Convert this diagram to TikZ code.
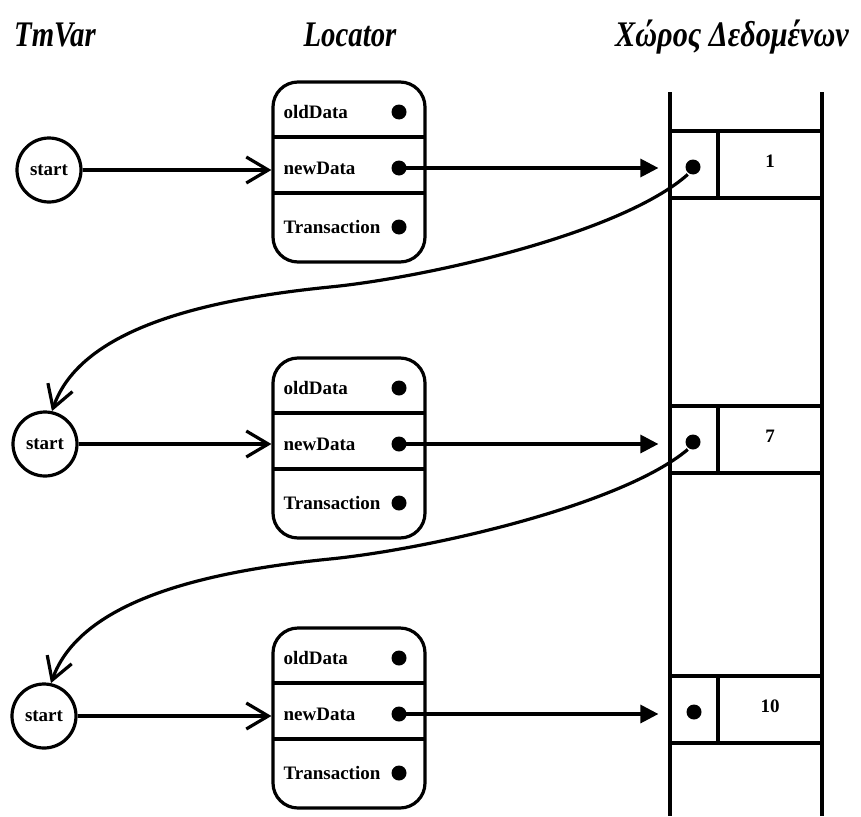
\documentclass[tikz,border=0pt]{standalone}
\usepackage{fontspec}
\usepackage{graphicx}
\setmainfont{Liberation Serif}
\usetikzlibrary{arrows.meta,calc}
\begin{document}
\begin{tikzpicture}[x=1pt,y=-1pt, line width=3.2pt,
  lbl/.style={font=\fontsize{19}{21}\selectfont\bfseries, anchor=west, inner sep=0pt},
  hdr/.style={font=\fontsize{36}{40}\selectfont\bfseries\itshape, anchor=base, inner sep=0pt},
  startnode/.style={circle, draw, minimum size=64pt, inner sep=0pt, font=\fontsize{19}{21}\selectfont\bfseries},
  locbox/.style={draw, rounded corners=25pt, minimum width=152pt, minimum height=180pt, inner sep=0pt},
  dotnode/.style={circle, fill, inner sep=0pt, minimum size=15pt},
  cell/.style={draw, inner sep=0pt, minimum height=67pt},
  numlbl/.style={font=\fontsize{19}{21}\selectfont\bfseries, inner sep=0pt},
  openarr/.style={-{Straight Barb[length=22pt,width=26pt]}},
  fillarr/.style={-{Triangle[length=18pt,width=18pt]}},
]
\useasboundingbox (0,0) rectangle (861,816);

% headers
\node[hdr] (h1) at (55,47) {\scalebox{0.8}[1]{TmVar}};
\node[hdr] (h2) at (350,47) {\scalebox{0.8}[1]{Locator}};
\node[hdr] (h3) at (732,47) {\scalebox{0.84}[1]{Χώρος Δεδομένων}};

% data column walls
\coordinate (wl0) at (670,92);
\coordinate (wl1) at (670,816);
\coordinate (wr0) at (822,92);
\coordinate (wr1) at (822,816);
\draw (wl0) -- (wl1);
\draw (wr0) -- (wr1);

% data cells
\node[cell, minimum width=48pt] (c1a) at (694,164.5) {};
\node[cell, minimum width=104pt] (c1b) at (770,164.5) {};
\node[numlbl] (v1) at (c1b.center) [yshift=3pt] {1};
\node[dotnode] (d1) at (693,167) {};

\node[cell, minimum width=48pt] (c2a) at (694,439.5) {};
\node[cell, minimum width=104pt] (c2b) at (770,439.5) {};
\node[numlbl] (v2) at (c2b.center) [yshift=3pt] {7};
\node[dotnode] (d2) at (693,442) {};

\node[cell, minimum width=48pt] (c3a) at (694,709.5) {};
\node[cell, minimum width=104pt] (c3b) at (770,709.5) {};
\node[numlbl] (v3) at (c3b.center) [yshift=3pt] {10};
\node[dotnode] (d3) at (694,712) {};

% locators
\foreach \T/\i in {82/1,358/2,628/3}{
  \node[locbox] (L\i) at (349,\T+90) {};
  \draw (273,\T+55) -- (425,\T+55);
  \draw (273,\T+111) -- (425,\T+111);
  \node[lbl] (o\i) at (282,\T+30) {oldData};
  \node[lbl] (n\i) at (282,\T+86) {newData};
  \node[lbl] (t\i) at (282,\T+145) {Transaction};
  \node[dotnode] (od\i) at (399,\T+30) {};
  \node[dotnode] (nd\i) at (399,\T+86) {};
  \node[dotnode] (td\i) at (399,\T+145) {};
}

% start circles
\node[startnode] (s1) at (49,170) {start};
\node[startnode] (s2) at (45,444) {start};
\node[startnode] (s3) at (44,716) {start};

% arrows start -> locator
\draw[openarr] (s1) -- (s1 -| L1.west);
\draw[openarr] (s2) -- (s2 -| L2.west);
\draw[openarr] (s3) -- (s3 -| L3.west);

% arrows newData -> data cell
\draw[fillarr, shorten >=10pt] (nd1.center) -- (nd1 -| c1a.west);
\draw[fillarr, shorten >=10pt] (nd2.center) -- (nd2 -| c2a.west);
\draw[fillarr, shorten >=10pt] (nd3.center) -- (nd3 -| c3a.west);

% curved arrows data -> next start
\draw[openarr] (d1.-125) .. controls (622,233) and (430,277) .. (330,287)
   .. controls (200,300) and (80,330) .. (s2.78);
\draw[openarr] (d2.-125) .. controls (622,505) and (430,549) .. (330,559)
   .. controls (200,572) and (80,602) .. (s3.78);
\end{tikzpicture}
\end{document}
